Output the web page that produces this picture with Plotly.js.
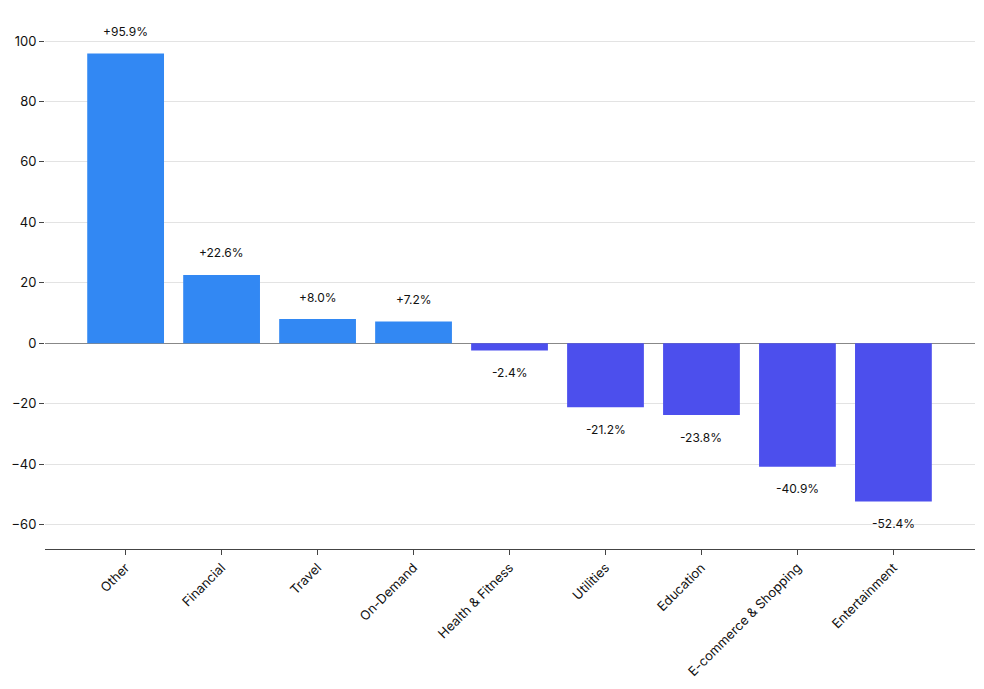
<!DOCTYPE html>
<html>
<head>
<meta charset="utf-8">
<script src="https://cdn.plot.ly/plotly-3.0.1.min.js"></script>
<style>
  html, body { margin: 0; padding: 0; background: #fff; }
  #chart { width: 984px; height: 689px; }
</style>
</head>
<body>
<div id="chart"></div>
<script>
const categories = ['Other', 'Financial', 'Travel', 'On-Demand', 'Health & Fitness',
  'Utilities', 'Education', 'E-commerce & Shopping', 'Entertainment'];
const changes = [95.9, 22.6, 8.0, 7.2, -2.4, -21.2, -23.8, -40.9, -52.4];

const posColor = '#3288f3';
const negColor = '#4c4fed';

function fmt(v) {
  return (v > 0 ? '+' : '') + v.toFixed(1) + '%';
}

const minV = Math.min(...changes);
const maxV = Math.max(...changes);

const labels = changes.map((v, i) => ({
  x: categories[i],
  y: v,
  text: fmt(v),
  showarrow: false,
  yshift: v >= 0 ? 22 : -22,
  font: {size: 12, color: '#111'},
}));

Plotly.newPlot('chart', [{
  type: 'bar',
  x: categories,
  y: changes,
  marker: {color: changes.map(v => v >= 0 ? posColor : negColor)},
  hoverinfo: 'skip',
}], {
  width: 984,
  height: 689,
  margin: {l: 45, r: 9, t: 10, b: 140},
  bargap: 0.2,
  showlegend: false,
  paper_bgcolor: '#fff',
  plot_bgcolor: '#fff',
  font: {family: 'Inter, sans-serif', size: 13, color: '#111'},
  xaxis: {
    type: 'category',
    range: [-0.84, 8.85],
    tickangle: -45,
    ticks: 'outside',
    ticklen: 5,
    tickcolor: '#444',
    showline: true,
    linecolor: '#444',
    linewidth: 1,
    showgrid: false,
    tickfont: {size: 13},
  },
  yaxis: {
    range: [minV * 1.3, maxV * 1.15],
    dtick: 20,
    ticks: 'outside',
    ticklen: 5,
    tickcolor: '#444',
    showline: false,
    gridcolor: '#e3e3e3',
    zeroline: true,
    zerolinecolor: '#888',
    zerolinewidth: 1,
    tickfont: {size: 13},
  },
  annotations: labels,
}, {displayModeBar: false, staticPlot: true});
</script>
</body>
</html>
